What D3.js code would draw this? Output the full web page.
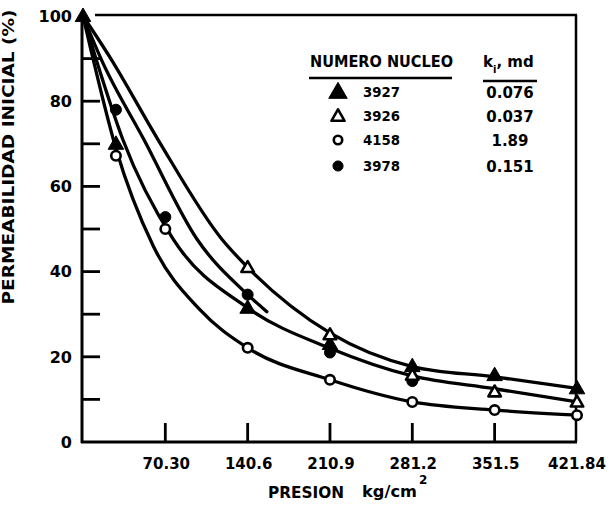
<!DOCTYPE html>
<html>
<head>
<meta charset="utf-8">
<script src="https://cdn.jsdelivr.net/npm/d3@7"></script>
<style>
  html, body { margin: 0; padding: 0; background: #fff; }
</style>
</head>
<body>
<script>
// ---- data ----
// pressure axis (kg/cm2)
const xTicks = [70.30, 140.6, 210.9, 281.2, 351.5, 421.84];
const xTickLabels = ["70.30", "140.6", "210.9", "281.2", "351.5", "421.84"];
// initial permeability axis (%)
const yTicks = [0, 10, 20, 30, 40, 50, 60, 70, 80, 90, 100];
const yTickLabels = [0, 20, 40, 60, 80, 100];

// measured points per core
const p3927 = [0, 28.12, 140.6, 210.9, 281.2, 351.5, 421.84];
const v3927 = [100, 70, 31.5, 23, 17.8, 15.7, 12.6];
const p3926 = [140.6, 210.9, 281.2, 351.5, 421.84];
const v3926 = [41, 25.2, 15.7, 11.8, 9.4];
const p4158 = [28.12, 70.3, 140.6, 210.9, 281.2, 351.5, 421.84];
const v4158 = [67.2, 50, 22.1, 14.6, 9.4, 7.5, 6.3];
const p3978 = [28.12, 70.3, 140.6, 210.9, 281.2];
const v3978 = [78, 52.8, 34.6, 21, 14.3];

// hand drawn fitted curves
const curveAx = [0, 23.7, 64, 118.6, 140.6, 210.9, 281.2, 351.5, 421.84];
const curveAy = [100, 90, 71, 47.6, 41, 25.6, 17.7, 15.3, 12.6];
const curveBx = [0, 15.3, 52, 97.4, 140.6, 157];
const curveBy = [100, 90, 71, 47.6, 34.6, 30.6];
const curveCx = [0, 11, 34, 77, 140.6, 210.9, 281.2, 351.5, 421.84];
const curveCy = [100, 90, 71, 47.6, 31.5, 22, 15.5, 12.5, 9.4];
const curveDx = [0, 6.8, 28, 60, 100, 140.6, 210.9, 281.2, 351.5, 421.84];
const curveDy = [100, 92, 69, 46, 31, 22.1, 14.6, 9.4, 7.5, 6.3];

// legend table
const legendIds = ["3927", "3926", "4158", "3978"];
const legendK = ["0.076", "0.037", "1.89", "0.151"];
const legendShapes = ["triFilled", "triOpen", "circOpen", "circFilled"];

/**
 * Style constants
 */
const STYLE = {
    width: 611,
    height: 507,
    plot: { left: 83, right: 577, top: 16, bottom: 442 },
    font: "'DejaVu Sans', 'Liberation Sans', sans-serif",
    ink: "#000"
};

const svg = d3.select("body").append("svg")
    .attr("width", STYLE.width)
    .attr("height", STYLE.height)
    .style("background", "#fff")
    .style("font-family", STYLE.font)
    .style("font-weight", "bold");

const x = d3.scaleLinear().domain([0, 421.84]).range([STYLE.plot.left, STYLE.plot.right]);
const y = d3.scaleLinear().domain([0, 100]).range([STYLE.plot.bottom, STYLE.plot.top]);

/**
 * Marker drawing, one of four symbols
 */
function marker(g, shape, px, py, k = 1) {
    const tri = shape.startsWith("tri");
    const filled = shape.endsWith("Filled");
    const size = (tri ? (filled ? 105 : 68) : (filled ? 95 : 70)) * k;
    g.append("path")
        .attr("transform", `translate(${px},${py + (tri ? 1 : 0)})`)
        .attr("d", d3.symbol().type(tri ? d3.symbolTriangle : d3.symbolCircle).size(size)())
        .attr("fill", filled ? STYLE.ink : "#fff")
        .attr("stroke", STYLE.ink)
        .attr("stroke-width", filled ? 1 : 2.6)
        .attr("stroke-linejoin", "round");
}

// ---- frame ----
const frame = svg.append("g").attr("stroke", STYLE.ink).attr("fill", "none");
frame.append("line").attr("x1", x(0) - 1).attr("x2", x(0) - 1)
    .attr("y1", 14).attr("y2", STYLE.plot.bottom + 1).attr("stroke-width", 3);
frame.append("line").attr("x1", x(0) - 2).attr("x2", STYLE.plot.right)
    .attr("y1", STYLE.plot.bottom).attr("y2", STYLE.plot.bottom).attr("stroke-width", 3);
frame.append("line").attr("x1", 95).attr("x2", STYLE.plot.right)
    .attr("y1", 15).attr("y2", 15).attr("stroke-width", 2.5);
frame.append("line").attr("x1", STYLE.plot.right - 1).attr("x2", STYLE.plot.right - 1)
    .attr("y1", 15).attr("y2", STYLE.plot.bottom).attr("stroke-width", 2.5);

// ticks pointing inside
frame.selectAll(".yt").data(yTicks.filter(d => d > 0 && d < 100)).join("line")
    .attr("x1", x(0)).attr("x2", x(0) + 17)
    .attr("y1", d => y(d)).attr("y2", d => y(d))
    .attr("stroke-width", 2.8);
frame.selectAll(".xt").data(xTicks.slice(0, -1)).join("line")
    .attr("x1", d => x(d)).attr("x2", d => x(d))
    .attr("y1", STYLE.plot.bottom).attr("y2", STYLE.plot.bottom - 19)
    .attr("stroke-width", 2.8);

// tick labels
svg.selectAll(".ylab").data(yTickLabels).join("text")
    .attr("x", 72).attr("y", d => y(d)).attr("dy", "0.36em")
    .attr("text-anchor", "end").attr("font-size", 16)
    .text(d => d);
svg.selectAll(".xlab").data(xTicks).join("text")
    .attr("x", (d, i) => x(d) + (i === xTicks.length - 1 ? 0 : 1))
    .attr("y", 469)
    .attr("text-anchor", "middle").attr("font-size", 15)
    .text((d, i) => xTickLabels[i]);

// axis titles
svg.append("text")
    .attr("transform", "translate(14,157) rotate(-90)")
    .attr("text-anchor", "middle").attr("font-size", 15)
    .attr("textLength", 295).attr("lengthAdjust", "spacingAndGlyphs")
    .text("PERMEABILIDAD INICIAL (%)");
svg.append("text")
    .attr("x", 268).attr("y", 498).attr("font-size", 15)
    .attr("textLength", 76).attr("lengthAdjust", "spacingAndGlyphs")
    .text("PRESION");
svg.append("text")
    .attr("x", 362).attr("y", 497).attr("font-size", 15)
    .attr("textLength", 55).attr("lengthAdjust", "spacingAndGlyphs")
    .text("kg/cm");
svg.append("text")
    .attr("x", 419).attr("y", 484).attr("font-size", 12)
    .text("2");

// ---- curves ----
const line = d3.line()
    .x(d => x(d[0])).y(d => y(d[1]))
    .curve(d3.curveMonotoneX);
const curves = [
    d3.zip(curveAx, curveAy),
    d3.zip(curveBx, curveBy),
    d3.zip(curveCx, curveCy),
    d3.zip(curveDx, curveDy)
];
svg.append("g").selectAll("path").data(curves).join("path")
    .attr("d", line)
    .attr("fill", "none")
    .attr("stroke", STYLE.ink)
    .attr("stroke-width", 3.3)
    .attr("stroke-linejoin", "round")
    .attr("stroke-linecap", "round");

// ---- markers ----
const mk = svg.append("g");
d3.zip(p3978, v3978).forEach(d => marker(mk, "circFilled", x(d[0]), y(d[1])));
d3.zip(p3927, v3927).forEach(d => marker(mk, "triFilled", x(d[0]), y(d[1])));
d3.zip(p3926, v3926).forEach(d => marker(mk, "triOpen", x(d[0]), y(d[1])));
d3.zip(p4158, v4158).forEach(d => marker(mk, "circOpen", x(d[0]), y(d[1])));

// ---- legend ----
const lg = svg.append("g");
lg.append("text").attr("x", 310).attr("y", 67).attr("font-size", 16)
    .attr("textLength", 143).attr("lengthAdjust", "spacingAndGlyphs")
    .text("NUMERO NUCLEO");
lg.append("line").attr("x1", 309).attr("x2", 452).attr("y1", 78).attr("y2", 78)
    .attr("stroke", STYLE.ink).attr("stroke-width", 2.5);
const kt = lg.append("text").attr("x", 483).attr("y", 67).attr("font-size", 15);
kt.append("tspan").text("k");
kt.append("tspan").attr("font-size", 10).attr("dy", 6).text("i");
kt.append("tspan").attr("dy", -6).text(", md");
lg.append("line").attr("x1", 483).attr("x2", 537).attr("y1", 81).attr("y2", 81)
    .attr("stroke", STYLE.ink).attr("stroke-width", 2.5);

const rowY = [92, 116, 140, 166];
const legendScale = [1.4, 1.1, 0.8, 0.85];
legendIds.forEach((id, i) => {
    marker(lg, legendShapes[i], 338, rowY[i], legendScale[i]);
    lg.append("text").attr("x", 363).attr("y", rowY[i] + 5).attr("font-size", 14)
        .attr("textLength", 37).attr("lengthAdjust", "spacingAndGlyphs")
        .text(id);
    lg.append("text").attr("x", 510).attr("y", rowY[i] + 6).attr("font-size", 15)
        .attr("text-anchor", "middle")
        .text(legendK[i]);
});
</script>
</body>
</html>
